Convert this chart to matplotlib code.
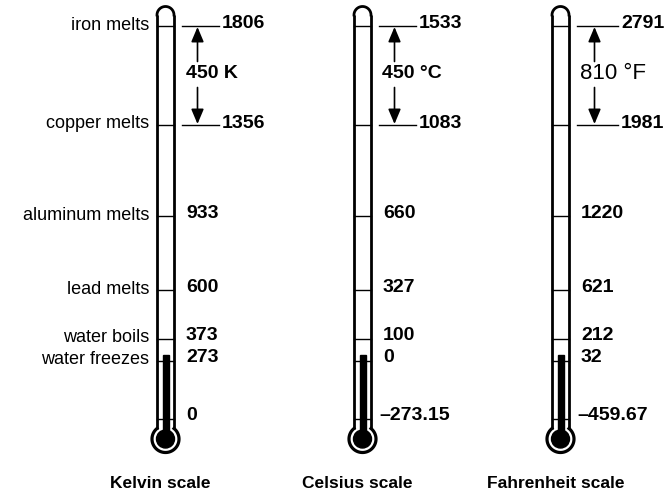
import numpy as np
import matplotlib
matplotlib.use("Agg")
import matplotlib.pyplot as plt
from matplotlib.patches import Circle, Rectangle

# --- data ---
events = ["iron melts", "copper melts", "aluminum melts", "lead melts",
          "water boils", "water freezes", ""]
kelvin = ["1806", "1356", "933", "600", "373", "273", "0"]
celsius = ["1533", "1083", "660", "327", "100", "0", "\u2013273.15"]
fahrenheit = ["2791", "1981", "1220", "621", "212", "32", "\u2013459.67"]
scales = ["Kelvin scale", "Celsius scale", "Fahrenheit scale"]
differences = ["450 K", "450 \u00b0C", "810 \u00b0F"]

# schematic layout (pixel positions, not proportional to temperature)
level_y = [26, 125, 216, 290, 339, 361, 419]
centers = [165.5, 362.5, 560.5]

fig = plt.figure(figsize=(6.7, 4.95), dpi=100)
ax = fig.add_axes([0, 0, 1, 1])
ax.set_xlim(0, 670)
ax.set_ylim(495, 0)
ax.axis("off")

half = 8.5       # tube half width
r_bulb = 13.5
bulb_y = 439
dome_y = 15
wall_lw = 2.0
join_dy = np.sqrt(r_bulb**2 - half**2)

lab_font = ["Liberation Sans", "DejaVu Sans"]


def thermometer(c):
    # walls
    ax.plot([c - half, c - half], [dome_y, bulb_y - join_dy], color="k", lw=wall_lw, solid_capstyle="butt")
    ax.plot([c + half, c + half], [dome_y, bulb_y - join_dy], color="k", lw=wall_lw, solid_capstyle="butt")
    t = np.linspace(0, np.pi, 60)
    ax.plot(c + half * np.cos(t), dome_y - half * np.sin(t), color="k", lw=wall_lw)
    # bulb outline
    a0 = np.arcsin(half / r_bulb)
    t = np.linspace(a0, 2 * np.pi - a0, 120)
    ax.plot(c - r_bulb * np.sin(t), bulb_y - r_bulb * np.cos(t), color="k", lw=wall_lw + 0.3)
    # mercury
    ax.add_patch(Circle((c, bulb_y), 9.0, color="k", zorder=3))
    ax.add_patch(Rectangle((c - 3, level_y[5] - 6), 6, bulb_y - level_y[5] + 6, color="k", zorder=3))


for i, (c, vals) in enumerate(zip(centers, [kelvin, celsius, fahrenheit])):
    thermometer(c)
    for j, y in enumerate(level_y):
        ax.plot([c - half, c + half], [y, y], color="k", lw=1.0, zorder=2)
    # top two levels with tick lines and difference arrows
    x0 = c + half + 8
    x1 = x0 + 37 + (4 if i == 2 else 0)
    ax_x = (x0 + x1) / 2 - 3
    for j in range(2):
        ax.plot([x0, x1], [level_y[j], level_y[j]], color="k", lw=1.0)
        ax.text(x1 + 3, level_y[j] - 2, vals[j], fontsize=14, fontweight="bold",
                family=lab_font, ha="left", va="center")
    mid = (level_y[0] + level_y[1]) / 2 - 2
    arrow = dict(arrowstyle="-|>,head_length=0.9,head_width=0.38", color="k", lw=1.2,
                 shrinkA=0, shrinkB=0)
    ax.annotate("", xy=(ax_x, level_y[0] + 1), xytext=(ax_x, mid - 12), arrowprops=arrow)
    ax.annotate("", xy=(ax_x, level_y[1] - 1), xytext=(ax_x, mid + 14), arrowprops=arrow)
    if i == 2:
        ax.text(ax_x + 18, mid, differences[i], fontsize=16, fontweight="normal",
                family=lab_font, ha="center", va="center")
    else:
        ax.text(ax_x + 14 + 3 * i, mid, differences[i], fontsize=14, fontweight="bold",
                family=lab_font, ha="center", va="center")
    # lower levels
    for j in range(2, len(level_y)):
        xo = c + half + 12
        if vals[j].startswith("\u2013"):
            xo -= 4
        ax.text(xo, level_y[j] - 3, vals[j], fontsize=14, fontweight="bold",
                family=lab_font, ha="left", va="center")
    ax.text(c - 5, 484, scales[i], fontsize=12.5, fontweight="bold",
            family=lab_font, ha="center", va="center")

for name, y in zip(events, level_y):
    if name:
        ax.text(149, y - 1, name, fontsize=13, family=lab_font, ha="right", va="center")

fig.savefig("out.png", dpi=100)
